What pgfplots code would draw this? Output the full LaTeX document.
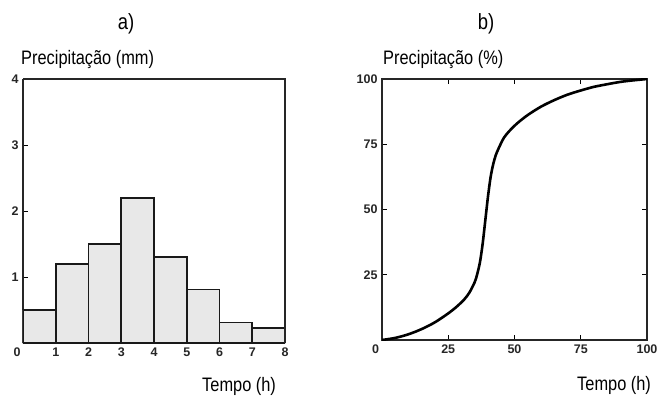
\documentclass[border=0pt]{standalone}
\usepackage{pgfplots}
\pgfplotsset{compat=1.18}
\usepackage{fontspec}
\setmainfont{Liberation Sans}
\newfontfamily\labelfont[FakeStretch=0.84]{Liberation Sans}
\newcommand\tickfont{\fontsize{12.5}{14}\selectfont\bfseries}
\begin{document}
\begin{tikzpicture}[x=1pt,y=1pt]
\useasboundingbox (0,0) rectangle (657,400);
\begin{axis}[
  at={(23pt,57pt)}, anchor=south west,
  scale only axis, width=262pt, height=264pt,
  xmin=0, xmax=8, ymin=0, ymax=4,
  xtick={0,...,8}, ytick={1,2,3,4},
  xticklabels={\llap{0\kern2.5pt},1,2,3,4,5,6,7,8},
  /pgf/number format/assume math mode=true,
  tick label style={font=\tickfont, text=black!85},
  xtick style={draw=none},
  ytick style={black, line width=1pt},
  tick align=inside, major tick length=5pt,
  yticklabel style={xshift=-1pt},
  xticklabel style={yshift=-1pt},
  axis line style={line width=1.2pt, black!85},
  axis x line*=box, axis y line*=left,
  y axis line style={-},
]
\addplot[ybar interval, fill=gray!18, draw=black!90, line width=1.6pt]
  coordinates {(0,0.5) (1,1.2) (2,1.5) (3,2.2) (4,1.3) (5,0.81) (6,0.31) (7,0.23) (8,0.23)};
\end{axis}
\draw[line width=1.2pt, black!85] (23,321) -- (285,321) -- (285,57);
\begin{axis}[
  at={(382pt,60pt)}, anchor=south west,
  scale only axis, width=265pt, height=261pt,
  xmin=0, xmax=100, ymin=0, ymax=100,
  xtick={0,25,50,75,100}, ytick={25,50,75,100},
  xticklabels={\llap{0\kern3pt},25,50,75,100},
  /pgf/number format/assume math mode=true,
  tick label style={font=\tickfont, text=black!85},
  tick align=inside, major tick length=5pt,
  tick style={black, line width=1pt},
  yticklabel style={xshift=-1pt},
  xticklabel style={yshift=-1pt},
  axis line style={line width=1.2pt, black!85},
]
\addplot[smooth, tension=0.5, black, line width=2.6pt] coordinates {
(0,0) (5,0.8) (10,2.2) (15,4.2) (20,6.8) (25,10.2) (28,12.6) (31,15.5) (33,18.2)
(35,22.2) (36,25.5) (37,30) (38,37) (39,46) (40,55) (41,62.5) (42,67.5) (43,71)
(44.5,74.5) (46,77.5) (48,80) (51,83) (55,86.2) (60,89.4) (65,91.9) (70,94)
(75,95.6) (80,97) (85,98) (90,98.9) (95,99.5) (100,100)};
\end{axis}
\node[font=\labelfont\fontsize{22}{24}\selectfont] at (126,376) {a)};
\node[font=\labelfont\fontsize{22}{24}\selectfont] at (486,376) {b)};
\node[anchor=west, font=\labelfont\fontsize{19.5}{22}\selectfont, inner sep=0pt] at (21,340) {Precipitação (mm)};
\node[anchor=west, font=\labelfont\fontsize{19.5}{22}\selectfont, inner sep=0pt] at (383,340) {Precipitação (\%)};
\node[anchor=west, font=\labelfont\fontsize{19.5}{22}\selectfont, inner sep=0pt] at (202,14) {Tempo (h)};
\node[anchor=west, font=\labelfont\fontsize{19.5}{22}\selectfont, inner sep=0pt] at (577,15) {Tempo (h)};
\end{tikzpicture}
\end{document}
